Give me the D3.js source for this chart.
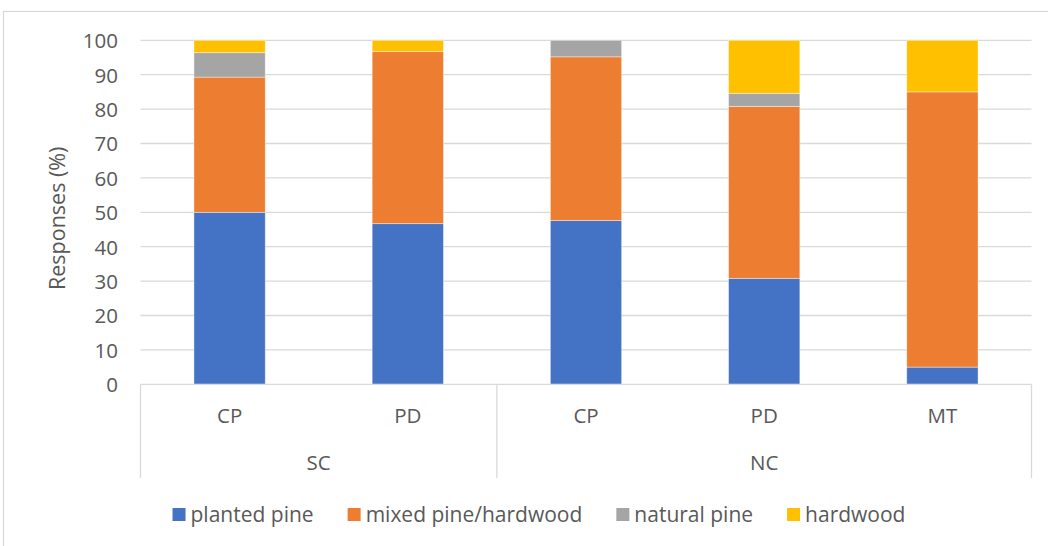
<!DOCTYPE html>
<html>
<head>
<meta charset="utf-8">
<script src="https://cdn.jsdelivr.net/npm/d3@7/dist/d3.min.js"></script>
<style>
  html, body { margin: 0; padding: 0; background: #ffffff; }
  svg { display: block; }
  text { font-family: "Open Sans", "Liberation Sans", sans-serif; fill: #595959; }
</style>
</head>
<body>
<svg id="chart" width="1048" height="546"></svg>
<script>
// Region / physiographic province categories
const regions = ["SC", "SC", "NC", "NC", "NC"];
const provinces = ["CP", "PD", "CP", "PD", "MT"];
const groups = ["SC", "NC"];

// Series (percent of responses)
const seriesNames = ["planted pine", "mixed pine/hardwood", "natural pine", "hardwood"];
const plantedPine = [50.0, 46.7, 47.6, 30.8, 5.0];
const mixedPineHardwood = [39.3, 50.0, 47.6, 50.0, 80.0];
const naturalPine = [7.1, 0.0, 4.8, 3.8, 0.0];
const hardwood = [3.6, 3.3, 0.0, 15.4, 15.0];
const seriesColors = ["#4472C4", "#ED7D31", "#A5A5A5", "#FFC000"];

const yTicks = [0, 10, 20, 30, 40, 50, 60, 70, 80, 90, 100];

const svg = d3.select("#chart");
const W = 1048, H = 546;
const plot = { left: 140.5, right: 1031.5, top: 40.3, bottom: 384.3 };
const gridColor = "#D9D9D9";

// Outer chart frame
svg.append("rect")
  .attr("x", 3.5).attr("y", 11.5)
  .attr("width", W + 10).attr("height", H + 10)
  .attr("fill", "none").attr("stroke", gridColor).attr("stroke-width", 1.2);

const keys = provinces.map((p, i) => i);
const x = d3.scaleBand().domain(keys).range([plot.left, plot.right]).paddingInner(0.6).paddingOuter(0.3);
const y = d3.scaleLinear().domain([0, 100]).range([plot.bottom, plot.top]);

// Horizontal gridlines
svg.append("g").selectAll("line").data(yTicks.filter(t => t > 0)).join("line")
  .attr("x1", plot.left).attr("x2", plot.right)
  .attr("y1", d => y(d)).attr("y2", d => y(d))
  .attr("stroke", gridColor).attr("stroke-width", 1.3);

// Y axis labels
const yAxis = d3.axisLeft(y).tickValues(yTicks).tickSize(0).tickPadding(0);
const yg = svg.append("g").attr("transform", `translate(118,0)`).call(yAxis);
yg.select(".domain").remove();
yg.selectAll("text")
  .style("font-family", '"Open Sans", sans-serif')
  .style("font-size", "20.5px").attr("fill", "#595959").attr("dy", "0.36em");

// Y axis title
svg.append("text")
  .attr("transform", `translate(65,${(plot.top + plot.bottom) / 2 + 6}) rotate(-90)`)
  .attr("text-anchor", "middle")
  .style("font-size", "21.5px")
  .text("Responses (%)");

// Stacked bars
const rows = keys.map(i => ({
  i,
  "planted pine": plantedPine[i],
  "mixed pine/hardwood": mixedPineHardwood[i],
  "natural pine": naturalPine[i],
  "hardwood": hardwood[i]
}));
const stacked = d3.stack().keys(seriesNames)(rows);

svg.append("g").selectAll("g").data(stacked).join("g")
  .attr("fill", (d, k) => seriesColors[k])
  .selectAll("rect").data(d => d.filter(s => s[1] - s[0] > 0)).join("rect")
  .attr("x", d => x(d.data.i))
  .attr("width", x.bandwidth())
  .attr("y", d => y(d[1]))
  .attr("height", d => y(d[0]) - y(d[1]))
  .attr("stroke", "#ffffff").attr("stroke-opacity", 0.5).attr("stroke-width", 0.8);

// Category axis baseline
svg.append("line")
  .attr("x1", plot.left).attr("x2", plot.right)
  .attr("y1", plot.bottom).attr("y2", plot.bottom)
  .attr("stroke", gridColor).attr("stroke-width", 1.3);

// Group dividers below the axis
const step = x.step();
const groupBounds = [0, 2, 5].map(n => plot.left + n * step);
svg.append("g").selectAll("line").data(groupBounds).join("line")
  .attr("x1", d => d).attr("x2", d => d)
  .attr("y1", plot.bottom).attr("y2", 478)
  .attr("stroke", gridColor).attr("stroke-width", 1.3);

// Province labels
svg.append("g").selectAll("text").data(keys).join("text")
  .attr("x", d => x(d) + x.bandwidth() / 2)
  .attr("y", 416).attr("dy", "0.36em")
  .attr("text-anchor", "middle")
  .style("font-size", "20.5px")
  .text(d => provinces[d]);

// Region labels
svg.append("g").selectAll("text").data(groups).join("text")
  .attr("x", g => {
    const idx = keys.filter(k => regions[k] === g);
    return (x(idx[0]) + x(idx[idx.length - 1]) + x.bandwidth()) / 2;
  })
  .attr("y", 463).attr("dy", "0.36em")
  .attr("text-anchor", "middle")
  .style("font-size", "20.5px")
  .text(g => g);

// Legend
const legend = svg.append("g");
const items = legend.selectAll("g").data(seriesNames).join("g");
items.append("rect")
  .attr("width", 13).attr("height", 13)
  .attr("y", 508)
  .attr("fill", (d, k) => seriesColors[k]);
items.append("text")
  .attr("x", 18).attr("y", 514.5).attr("dy", "0.36em")
  .style("font-size", "21px")
  .text(d => d);
let cx = 0;
const offsets = [];
items.each(function () {
  offsets.push(cx);
  const w = this.querySelector("text").getComputedTextLength();
  cx += 18 + w + 34;
});
const total = cx - 34;
const startX = 539 - total / 2;
items.attr("transform", (d, k) => `translate(${startX + offsets[k]},0)`);
</script>
</body>
</html>
